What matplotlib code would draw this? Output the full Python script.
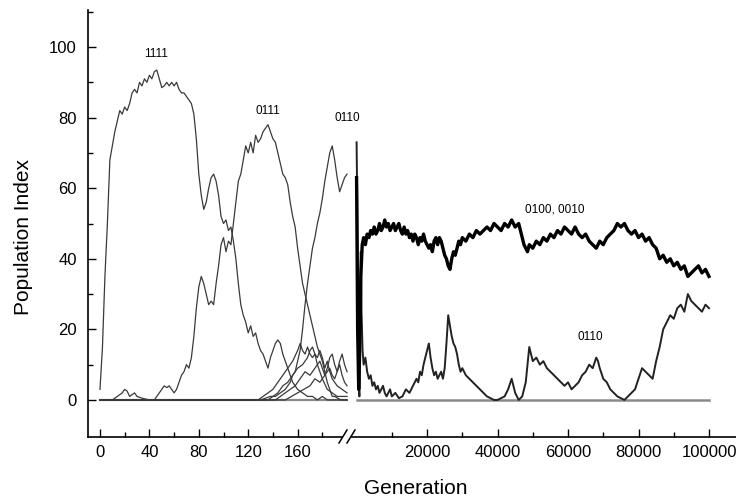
import matplotlib
matplotlib.use("Agg")
import matplotlib.pyplot as plt
from matplotlib.lines import Line2D

plt.rcParams['font.family'] = ['Liberation Sans', 'DejaVu Sans']

# early generations (left part of the broken axis)
gen_1111 = [0, 2, 4, 6, 8, 10, 12, 14, 16, 18, 20, 22, 24, 26, 28, 30, 32, 34, 36, 38,
            40, 42, 44, 46, 48, 50, 52, 54, 56, 58, 60, 62, 64, 66, 68, 70, 72, 74, 76, 78,
            80, 82, 84, 86, 88, 90, 92, 94, 96, 98, 100, 102, 104, 106, 108, 110, 112, 114, 116, 118,
            120, 122, 124, 126, 128, 130, 132, 134, 136, 138, 140, 142, 144, 146, 148, 150, 152, 154, 156, 158,
            160, 164, 168, 172, 176, 180, 184, 190, 200]
pop_1111 = [3, 15, 35, 50, 68, 72, 76, 79, 82, 81, 83, 82, 84, 87, 88, 87, 90, 89, 91, 90,
            92, 91, 93, 93.5, 91, 88.5, 89, 90, 89, 90, 89, 90, 88, 87, 87, 86, 85, 84, 81, 74,
            64, 58, 54, 56, 60, 63, 64, 62, 58, 52, 50, 51, 48, 49, 45, 40, 33, 27, 24, 22,
            19, 21, 18, 19, 16, 14, 13, 11, 9, 12, 14, 16, 17, 16, 13, 11, 9, 7, 5, 4,
            3, 2, 1, 1, 0, 1, 0, 0, 0]

gen_0111 = [0, 10, 14, 18, 20, 22, 24, 26, 28, 30, 34, 40, 44, 46, 48, 50, 52, 54, 56, 58,
            60, 62, 64, 66, 68, 70, 72, 74, 76, 78, 80, 82, 84, 86, 88, 90, 92, 94, 96, 98,
            100, 102, 104, 106, 108, 110, 112, 114, 116, 118, 120, 122, 124, 126, 128, 130, 132, 134, 136, 138,
            140, 142, 144, 146, 148, 150, 152, 154, 156, 158, 160, 162, 164, 166, 168, 170, 172, 174, 176, 178,
            180, 182, 184, 186, 188, 190, 195, 200]
pop_0111 = [0, 0, 1, 2, 3, 2.5, 1, 1.5, 2, 1, 0.5, 0, 0, 1, 2, 3, 4, 3.5, 4, 3,
            2, 3, 5, 7, 8, 10, 9, 12, 18, 26, 32, 35, 33, 30, 27, 28, 27, 33, 38, 44,
            46, 42, 45, 44, 50, 56, 62, 64, 68, 72, 70, 73, 70, 75, 73, 74, 76, 77, 78, 76,
            74, 73, 70, 67, 64, 63, 61, 56, 52, 49, 43, 38, 33, 30, 27, 24, 21, 18, 15, 13,
            11, 8, 5, 3, 1, 1, 0, 0]

gen_0110 = [0, 130, 134, 138, 142, 146, 150, 152, 154, 156, 158, 160, 162, 164, 166, 168, 170, 172, 174, 176,
            178, 180, 182, 184, 186, 188, 190, 192, 194, 196, 198, 200]
pop_0110 = [0, 0, 0.5, 1, 1, 2, 3, 4, 5, 7, 8, 11, 14, 20, 27, 33, 38, 43, 46, 50,
            53, 57, 62, 66, 70, 72, 68, 63, 59, 61, 63, 64]

# minor genotypes appearing late in the first phase
gen_s1 = [0, 128, 132, 136, 140, 144, 148, 152, 156, 160, 162, 164, 166, 168, 170, 172, 174, 176, 178, 180, 184, 188, 192, 200]
pop_s1 = [0, 0, 1, 2, 3, 5, 7, 9, 11, 14, 16, 14, 13, 15, 13, 12, 13, 10, 8, 6, 3, 2, 1, 1]
gen_s2 = [0, 136, 140, 144, 148, 152, 156, 160, 164, 168, 170, 172, 174, 176, 178, 180, 182, 184, 186, 188, 192, 196, 200]
pop_s2 = [0, 0, 1, 2, 4, 5, 7, 9, 10, 12, 14, 15, 13, 12, 14, 12, 9, 11, 8, 6, 4, 3, 2]
gen_s3 = [0, 142, 146, 150, 154, 158, 162, 166, 170, 174, 178, 180, 182, 184, 186, 188, 190, 192, 194, 196, 198, 200]
pop_s3 = [0, 0, 1, 2, 3, 4, 6, 8, 7, 9, 11, 9, 7, 9, 12, 13, 10, 8, 11, 13, 10, 8]
gen_s4 = [0, 150, 155, 160, 165, 170, 174, 178, 182, 186, 188, 190, 192, 194, 196, 198, 200]
pop_s4 = [0, 0, 1, 2, 3, 4, 6, 5, 7, 9, 7, 6, 8, 10, 7, 5, 4]

# long run (right part of the broken axis)
gen_0100 = [0, 300, 600, 900, 1200, 1600, 2000, 2500, 3000, 3500, 4000, 4500, 5000, 5500, 6000, 6500, 7000, 7500, 8000, 8500,
            9000, 9500, 10000, 10500, 11000, 11500, 12000, 12500, 13000, 13500, 14000, 14500, 15000, 15500, 16000, 16500, 17000, 17500, 18000, 18500,
            19000, 19500, 20000, 20500, 21000, 21500, 22000, 22500, 23000, 23500, 24000, 24500, 25000, 25500, 26000, 26500, 27000, 27500, 28000, 28500,
            29000, 29500, 30000, 31000, 32000, 33000, 34000, 35000, 36000, 37000, 38000, 39000, 40000, 41000, 42000, 43000, 44000, 45000, 46000, 46500,
            47000, 47500, 48000, 48500, 49000, 50000, 51000, 52000, 53000, 54000, 55000, 56000, 57000, 58000, 59000, 60000, 61000, 62000, 63000, 64000,
            65000, 66000, 67000, 68000, 69000, 70000, 71000, 72000, 73000, 74000, 75000, 76000, 77000, 78000, 79000, 80000, 81000, 82000, 83000, 84000,
            85000, 86000, 87000, 88000, 89000, 90000, 91000, 92000, 93000, 94000, 95000, 96000, 97000, 98000, 99000, 100000]
pop_0100 = [63, 20, 3, 15, 35, 44, 46, 44, 47, 46, 48, 47, 49, 47, 48, 50, 48, 49, 51, 49,
            50, 48, 49, 50, 48, 49, 50, 48, 47, 49, 47, 48, 46, 47, 45, 47, 46, 44, 46, 45,
            47, 45, 44, 43, 44, 42, 45, 46, 44, 46, 45, 43, 41, 40, 38, 37, 40, 42, 41, 43,
            45, 44, 46, 45, 47, 46, 48, 47, 48, 49, 48, 50, 49, 48, 50, 49, 51, 49, 50, 48,
            46, 44, 43, 42, 44, 43, 45, 44, 46, 45, 47, 46, 48, 47, 49, 48, 47, 49, 47, 46,
            47, 45, 44, 43, 45, 44, 46, 47, 48, 50, 49, 50, 48, 47, 48, 46, 47, 45, 46, 44,
            43, 40, 41, 39, 40, 38, 39, 37, 38, 35, 36, 37, 38, 36, 37, 35]

gen_0110b = [0, 200, 400, 600, 800, 1000, 1200, 1400, 1700, 2000, 2500, 3000, 3500, 4000, 4500, 5000, 5500, 6000, 6500, 7000,
             7500, 8000, 8500, 9000, 9500, 10000, 11000, 12000, 13000, 14000, 15000, 16000, 17000, 17500, 18000, 18500, 19000, 19500, 20000, 20500,
             21000, 21500, 22000, 22500, 23000, 23500, 24000, 24500, 25000, 25500, 26000, 26500, 27000, 27500, 28000, 28500, 29000, 29500, 30000, 31000,
             32000, 33000, 34000, 35000, 36000, 37000, 38000, 39000, 40000, 41000, 42000, 43000, 44000, 44500, 45000, 46000, 47000, 48000, 48500, 49000,
             49500, 50000, 51000, 52000, 53000, 54000, 55000, 56000, 57000, 58000, 59000, 60000, 61000, 62000, 63000, 64000, 65000, 66000, 67000, 68000,
             68500, 69000, 70000, 71000, 72000, 73000, 74000, 75000, 76000, 77000, 78000, 79000, 80000, 81000, 82000, 83000, 84000, 85000, 86000, 87000,
             88000, 89000, 90000, 91000, 92000, 93000, 94000, 95000, 96000, 97000, 98000, 99000, 100000]
pop_0110b = [73, 55, 30, 5, 1, 30, 42, 25, 14, 10, 12, 8, 6, 7, 4, 5, 3, 4, 2, 3,
             4, 2, 1, 2, 3, 1, 2, 0.5, 1, 3, 2, 4, 6, 5, 8, 7, 10, 12, 14, 16,
             12, 9, 7, 8, 6, 7, 8, 6, 9, 16, 24, 21, 18, 16, 15, 13, 10, 8, 9, 7,
             6, 5, 4, 3, 2, 1, 0.5, 0, 0, 0.5, 1, 3, 6, 4, 2, 0, 1, 5, 10, 15,
             13, 11, 12, 10, 11, 9, 8, 7, 6, 5, 4, 5, 3, 4, 5, 7, 8, 10, 9, 12,
             11, 9, 6, 5, 3, 2, 1, 0.5, 0, 1, 2, 3, 6, 9, 8, 7, 6, 11, 15, 20,
             22, 24, 23, 26, 27, 25, 30, 28, 27, 26, 25, 27, 26]

left_xticks = [0, 40, 80, 120, 160]
right_xticks = [20000, 40000, 60000, 80000, 100000]
yticks = [0, 20, 40, 60, 80, 100]

W, H = 736, 501
fig = plt.figure(figsize=(W / 100, H / 100), dpi=100)

ax_l = fig.add_axes([88 / W, 1 - 437 / H, (350 - 88) / W, 427 / H])
ax_r = fig.add_axes([352 / W, 1 - 437 / H, (W - 352) / W, 427 / H])

thin = dict(color="#3a3a3a", lw=0.9)

# left panel
ax_l.plot([0, 200], [0, 0], color="#8a8a8a", lw=1.6)
for g, p in [(gen_s1, pop_s1), (gen_s2, pop_s2), (gen_s3, pop_s3), (gen_s4, pop_s4)]:
    ax_l.plot(g, p, **thin)
ax_l.plot(gen_1111, pop_1111, **thin)
ax_l.plot(gen_0111, pop_0111, **thin)
ax_l.plot(gen_0110, pop_0110, **thin)

# right panel
ax_r.plot([0, 100000], [0, 0], color="#8a8a8a", lw=1.8)
ax_r.plot(gen_0110b, pop_0110b, color="#222222", lw=1.4)
ax_r.plot(gen_0100, pop_0100, color="black", lw=2.4)

ax_l.set_xlim(-9.7, 202.4)
ax_r.set_xlim(-1300, 107660)
for ax in (ax_l, ax_r):
    ax.set_ylim(-10.5, 110.5)
    ax.spines["top"].set_visible(False)
    ax.spines["right"].set_visible(False)
    ax.spines["bottom"].set_linewidth(1.2)
    ax.tick_params(direction="in", labelsize=12, width=1.0)
    ax.tick_params(which="major", length=6)
    ax.tick_params(which="minor", length=3.5, direction="in", width=1.0)

ax_l.spines["left"].set_linewidth(1.2)
ax_l.spines["bottom"].set_bounds(-9.7, 196)
ax_l.set_xticks(left_xticks)
ax_l.set_xticks([20, 60, 100, 140, 180], minor=True)
ax_l.set_yticks(yticks)
ax_l.set_yticks([10, 30, 50, 70, 90, 110], minor=True)
ax_l.tick_params(axis="x", pad=6)
ax_l.tick_params(axis="y", pad=8)

ax_r.spines["left"].set_visible(False)
ax_r.set_yticks([])
ax_r.set_xticks(right_xticks)
ax_r.set_xticks([10000, 30000, 50000, 70000, 90000], minor=True)
ax_r.tick_params(axis="x", pad=6)
ax_r.patch.set_visible(False)

# genotype labels
ax_l.text(45, 98, "1111", ha="center", va="center", fontsize=8.5)
ax_l.text(136, 82, "0111", ha="center", va="center", fontsize=8.5)
ax_l.text(200, 80, "0110", ha="center", va="center", fontsize=8.5, clip_on=False)
ax_r.text(56300, 54, "0100, 0010", ha="center", va="center", fontsize=8.5)
ax_r.text(66200, 17.8, "0110", ha="center", va="center", fontsize=8.5)

# break marks on the x axis
for x0 in (339, 347):
    fig.add_artist(Line2D([x0 / W, (x0 + 8) / W], [1 - 443 / H, 1 - 430 / H],
                          color="black", lw=1.1))

fig.text(416 / W, 1 - 488 / H, "Generation", ha="center", va="center", fontsize=15)
fig.text(24 / W, 1 - 237 / H, "Population Index", ha="center", va="center",
         rotation=90, fontsize=15)

fig.savefig("out.png", dpi=100)
